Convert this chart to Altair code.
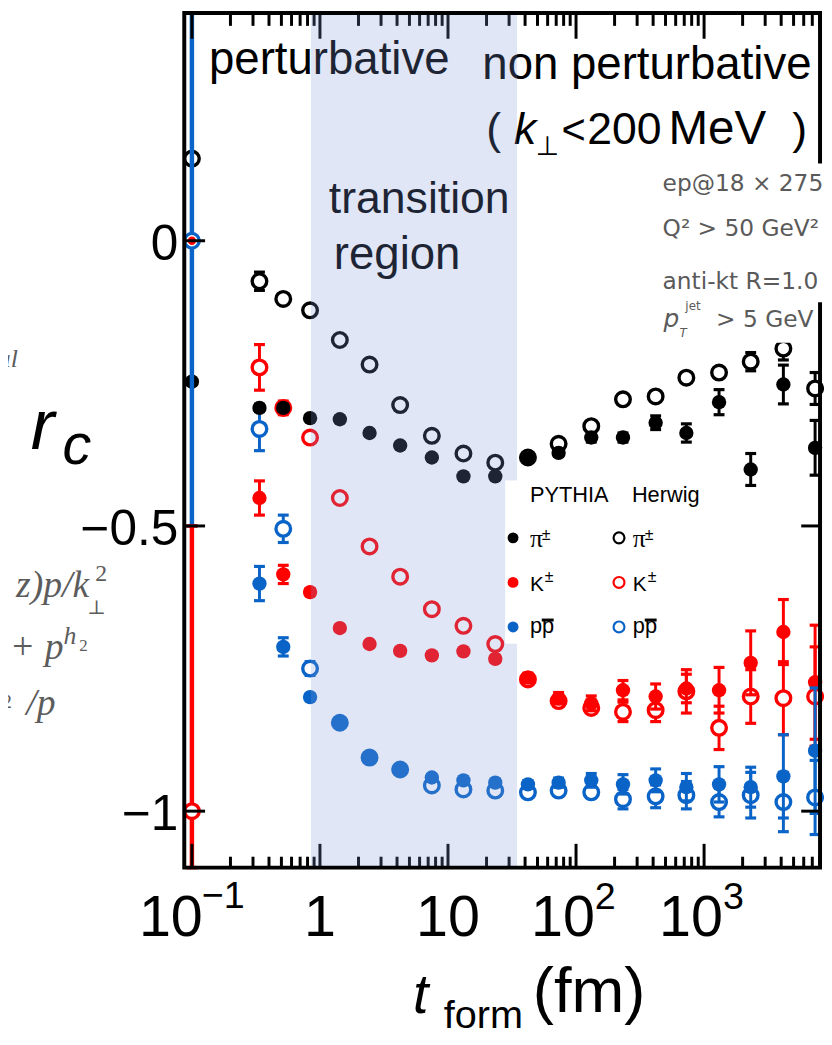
import altair as alt
import pandas as pd

# ---------------- data ----------------
t_form = [0.337, 0.517, 0.837, 1.43, 2.44, 4.23, 7.48, 13.2, 23.4, 42.1, 73.1,
          131.5, 232.6, 418.5, 727.0, 1309.0, 2313.0, 4162.0, 7362.0]

pythia_pi = [-0.293, -0.293, -0.311, -0.313, -0.337, -0.359, -0.380, -0.413, -0.413,
             -0.382, -0.372, -0.345, -0.345, -0.319, -0.337, -0.283, -0.401, -0.252, -0.363]
pythia_pi_err = [0.006, 0.006, 0.005, 0.005, 0.005, 0.005, 0.005, 0.005, 0.005,
                 0.006, 0.006, 0.008, 0.008, 0.012, 0.016, 0.022, 0.028, 0.034, 0.048]
herwig_pi = [-0.071, -0.102, -0.122, -0.174, -0.217, -0.288, -0.342, -0.373, -0.389,
             -0.380, -0.356, -0.325, -0.278, -0.273, -0.240, -0.231, -0.212, -0.189, -0.259]
herwig_pi_err = [0.016, 0.006, 0.005, 0.005, 0.005, 0.005, 0.005, 0.005, 0.005,
                 0.005, 0.006, 0.006, 0.006, 0.007, 0.008, 0.008, 0.016, 0.020, 0.028]
pythia_k = [-0.451, -0.585, -0.616, -0.679, -0.707, -0.719, -0.727, -0.720, -0.733,
            -0.766, -0.802, -0.811, -0.788, -0.799, -0.785, -0.788, -0.740, -0.686, -0.774]
pythia_k_err = [0.030, 0.016, 0.006, 0.005, 0.005, 0.005, 0.005, 0.005, 0.006,
                0.008, 0.010, 0.013, 0.017, 0.022, 0.025, 0.040, 0.056, 0.057, 0.100]
herwig_k = [-0.222, -0.293, -0.345, -0.451, -0.536, -0.589, -0.646, -0.675, -0.707,
            -0.769, -0.807, -0.819, -0.826, -0.823, -0.790, -0.854, -0.799, -0.802, -0.799]
herwig_k_err = [0.040, 0.012, 0.006, 0.005, 0.005, 0.005, 0.005, 0.005, 0.010,
                0.006, 0.008, 0.008, 0.017, 0.020, 0.038, 0.038, 0.047, 0.064, 0.087]
pythia_p = [-0.601, -0.712, -0.800, -0.845, -0.906, -0.927, -0.941, -0.946, -0.950,
            -0.953, -0.950, -0.946, -0.953, -0.946, -0.958, -0.953, -0.958, -0.939, -0.894]
pythia_p_err = [0.030, 0.016, 0.005, 0.005, 0.005, 0.005, 0.005, 0.006, 0.006,
                0.006, 0.008, 0.012, 0.017, 0.020, 0.024, 0.031, 0.035, 0.073, 0.110]
herwig_p = [-0.330, -0.505, -0.750, -0.845, -0.906, -0.927, -0.955, -0.962, -0.964,
            -0.967, -0.964, -0.967, -0.979, -0.974, -0.972, -0.984, -0.972, -0.984, -0.976]
herwig_p_err = [0.038, 0.024, 0.012, 0.005, 0.005, 0.005, 0.005, 0.006, 0.006,
                0.006, 0.008, 0.010, 0.017, 0.020, 0.024, 0.026, 0.040, 0.052, 0.065]

# stray points sitting on the left edge (t = 0.1)
edge_t = [0.1, 0.1, 0.1, 0.1, 0.1]
edge_r = [0.144, -0.247, 0.0, -1.0, 0.0]
edge_color = ["black", "black", "blue", "red", "red"]
edge_open = [True, False, True, True, False]
edge_bar_lo = [-0.5, -1.099]
edge_bar_hi = [0.399, -0.5]
edge_bar_color = ["blue", "red"]

# shaded "transition region" (fm)
trans_lo, trans_hi = 0.85, 34.6

# axis ticks / labels
y_ticks = [0.0, -0.5, -1.0]
y_tick_labels = ["0", "\u22120.5", "\u22121"]
x_major = [0.1, 1, 10, 100, 1000]
x_minor_mult = [2, 3, 4, 5, 6, 7, 8, 9]
x_plain_labels = [(1, "1"), (10, "10")]
x_pow_labels = [(100, "2"), (1000, "3")]

# ---------------- geometry ----------------
W, H = 642, 863
XMIN, XMAX = 0.08717, 8047.0
YMIN, YMAX = -1.099, 0.3993
COL = {"black": "#000000", "red": "#ff0000", "blue": "#0a64c8"}
SANS = "Liberation Sans"
SERIF = "Liberation Serif"
GRAY = "#5c5c5c"
INFO = "#5a5a5a"
S_OPEN, S_FILL = 218, 210

xs = alt.Scale(type="log", domain=[XMIN, XMAX], nice=False)
ys = alt.Scale(domain=[YMIN, YMAX], nice=False, zero=False)


def X(f):
    return alt.X(f, type="quantitative", scale=xs, axis=None)


def Y(f):
    return alt.Y(f, type="quantitative", scale=ys, axis=None)


ONE = pd.DataFrame({"d": [0]})


def open_pt(data, color, size=S_OPEN, sw=3.4):
    return alt.Chart(data).mark_point(shape="circle", filled=True, fill="white",
                                      stroke=color, strokeWidth=sw, size=size, opacity=1)


def fill_pt(data, color, size=S_FILL):
    return alt.Chart(data).mark_point(shape="circle", filled=True, fill=color,
                                      strokeWidth=0, size=size, opacity=1)


def series(vals, errs, color, is_open):
    df = pd.DataFrame({"t": t_form, "r": vals,
                       "lo": [v - e for v, e in zip(vals, errs)],
                       "hi": [v + e for v, e in zip(vals, errs)]})
    base = alt.Chart(df)
    bar = base.mark_rule(color=color, strokeWidth=3, opacity=1).encode(
        x=X("t"), y=Y("lo"), y2=alt.Y2("hi"))
    cl = base.mark_tick(orient="horizontal", size=11, thickness=3.2, color=color,
                        opacity=1).encode(x=X("t"), y=Y("lo"))
    ch = base.mark_tick(orient="horizontal", size=11, thickness=3.2, color=color,
                        opacity=1).encode(x=X("t"), y=Y("hi"))
    pt = open_pt(df, color) if is_open else fill_pt(df, color)
    pt = pt.encode(x=X("t"), y=Y("r"))
    return [bar, cl, ch, pt]


def txt(s, x, y, size, color="black", font=SANS, style="normal", align="left"):
    return alt.Chart(pd.DataFrame({"s": [s]})).mark_text(
        align=align, baseline="alphabetic", fontSize=size, font=font,
        fontStyle=style, color=color).encode(x=alt.value(x), y=alt.value(y), text="s:N")


def prect(x1, x2, y1, y2, fill):
    return alt.Chart(ONE).mark_rect(color=fill, opacity=1).encode(
        x=alt.value(x1), x2=alt.value(x2), y=alt.value(y1), y2=alt.value(y2))


layers = []

# ---- stray edge points ----
edf = pd.DataFrame({"t": edge_t, "r": edge_r,
                    "c": [COL[c] for c in edge_color], "o": edge_open})
bdf = pd.DataFrame({"t": [0.1, 0.1], "lo": edge_bar_lo, "hi": edge_bar_hi,
                    "c": [COL[c] for c in edge_bar_color]})
layers.append(open_pt(edf.iloc[[0]], COL["black"]).encode(x=X("t"), y=Y("r")))
layers.append(fill_pt(edf.iloc[[1]], COL["black"]).encode(x=X("t"), y=Y("r")))
for i in range(2):
    b = alt.Chart(bdf.iloc[[i]])
    c = bdf["c"][i]
    layers.append(b.mark_rule(color=c, strokeWidth=4.5, opacity=1).encode(
        x=X("t"), y=Y("lo"), y2=alt.Y2("hi")))
    layers.append(b.mark_tick(orient="horizontal", size=11, thickness=3.5, color=c,
                              opacity=1).encode(x=X("t"), y=Y("lo")))
    layers.append(b.mark_tick(orient="horizontal", size=11, thickness=3.5, color=c,
                              opacity=1).encode(x=X("t"), y=Y("hi")))
layers.append(open_pt(edf.iloc[[2]], COL["blue"]).encode(x=X("t"), y=Y("r")))
layers.append(open_pt(edf.iloc[[3]], COL["red"]).encode(x=X("t"), y=Y("r")))
layers.append(fill_pt(edf.iloc[[4]], COL["red"], size=70).encode(x=X("t"), y=Y("r")))

# ---- main series: Herwig (open) first, then PYTHIA (filled) ----
layers += series(herwig_k, herwig_k_err, COL["red"], True)
layers += series(herwig_pi, herwig_pi_err, COL["black"], True)
layers += series(herwig_p, herwig_p_err, COL["blue"], True)
layers += series(pythia_k, pythia_k_err, COL["red"], False)
layers += series(pythia_pi, pythia_pi_err, COL["black"], False)
layers += series(pythia_p, pythia_p_err, COL["blue"], False)

# ---- region texts (under the shading) ----
layers.append(txt("perturbative", 25, 62, 46))
layers.append(txt("non perturbative", 301, 67, 46))
layers.append(txt("(", 305, 132, 45))
layers.append(txt("k", 333, 132, 45, style="italic"))
layers.append(txt("\u22a5", 355, 143, 27, font="DejaVu Sans"))
layers.append(txt("<", 381, 132, 42))
layers.append(txt("200", 407, 132, 45))
layers.append(txt("MeV", 489, 132, 48))
layers.append(txt(")", 614, 132, 45))
layers.append(txt("transition", 146, 202, 45))
layers.append(txt("region", 151, 259, 46))

# ---- ticks ----
minor = [m * d for d in x_major for m in x_minor_mult if XMIN < m * d < XMAX]
mj = pd.DataFrame({"t": x_major})
mn = pd.DataFrame({"t": minor})
for df, ln in ((mj, 24), (mn, 11)):
    layers.append(alt.Chart(df).mark_rule(color="black", strokeWidth=3, opacity=1).encode(
        x=X("t"), y=alt.value(H), y2=alt.value(H - ln)))
for df, ln in ((mj, 26), (mn, 13)):
    layers.append(alt.Chart(df).mark_rule(color="black", strokeWidth=3, opacity=1).encode(
        x=X("t"), y=alt.value(0), y2=alt.value(ln)))
ytk = pd.DataFrame({"v": y_ticks, "lab": y_tick_labels})
layers.append(alt.Chart(ytk).mark_rule(color="black", strokeWidth=3, opacity=1).encode(
    y=Y("v"), x=alt.value(0), x2=alt.value(21)))
layers.append(alt.Chart(ytk.iloc[1:]).mark_rule(color="black", strokeWidth=3, opacity=1).encode(
    y=Y("v"), x=alt.value(W - 19), x2=alt.value(W)))

# ---- shading of the transition region (semi-transparent, on top) ----
sh = pd.DataFrame({"a": [trans_lo], "b": [trans_hi]})
layers.append(alt.Chart(sh).mark_rect(color="rgb(125,150,212)", opacity=0.24).encode(
    x=X("a"), x2=alt.X2("b"), y=alt.value(0), y2=alt.value(H)))

# ---- frame ----
layers.append(alt.Chart(ONE).mark_rect(filled=False, stroke="black", strokeWidth=4,
                                       opacity=1).encode(
    x=alt.value(0), x2=alt.value(W), y=alt.value(0), y2=alt.value(H)))

# ---- info box (gray, top right) ----
layers.append(prect(476, 646, 152, 292, "white"))
layers.append(prect(476, 630, 292, 333, "white"))
layers.append(txt("ep@18 \u00d7 275", 483, 180, 23.5, color=INFO, font="DejaVu Sans"))
layers.append(txt("Q\u00b2 > 50 GeV\u00b2", 483, 225, 23.5, color=INFO, font="DejaVu Sans"))
layers.append(txt("anti-kt R=1.0", 483, 279, 23.5, color=INFO, font="DejaVu Sans"))
layers.append(txt("p", 484, 317, 25, color=INFO, font="DejaVu Sans", style="italic"))
layers.append(txt("T", 500, 327, 12, color=INFO, font="DejaVu Sans", style="italic"))
layers.append(txt("jet", 506, 300, 12, color=INFO, font="DejaVu Sans"))
layers.append(txt("> 5 GeV", 537, 317, 23.5, color=INFO, font="DejaVu Sans"))

# ---- legend ----
layers.append(prect(324, 540, 472, 637, "white"))
layers.append(txt("PYTHIA", 349, 494, 22))
layers.append(txt("Herwig", 452, 494, 22))
leg_y = [530, 575, 620]
leg_c = [COL["black"], COL["red"], COL["blue"]]
for yy, cc in zip(leg_y, leg_c):
    layers.append(fill_pt(ONE, cc, size=121).encode(x=alt.value(332), y=alt.value(yy)))
    layers.append(open_pt(ONE, cc, size=121, sw=2.2).encode(x=alt.value(439), y=alt.value(yy)))
for x0 in (349, 453):
    layers.append(txt("\u03c0", x0, 539, 26, font=SERIF))
    layers.append(txt("\u00b1", x0 + 12, 532, 16))
    layers.append(txt("K", x0, 584, 21))
    layers.append(txt("\u00b1", x0 + 15, 575, 16))
    layers.append(txt("pp", x0, 626, 22))
    layers.append(alt.Chart(ONE).mark_rule(color="black", strokeWidth=3, opacity=1).encode(
        x=alt.value(x0 + 12), x2=alt.value(x0 + 24), y=alt.value(613)))

# ---- tick labels ----
ylab = alt.Chart(ytk).mark_text(align="right", baseline="alphabetic", fontSize=50,
                                font=SANS, color="black", dy=19).encode(
    x=alt.value(-6), y=Y("v"), text="lab:N")
layers.append(ylab)
xp = pd.DataFrame({"t": [a for a, _ in x_plain_labels], "s": [b for _, b in x_plain_labels]})
layers.append(alt.Chart(xp).mark_text(align="center", baseline="alphabetic", fontSize=58,
                                      font=SANS, color="black").encode(
    x=X("t"), y=alt.value(932), text="s:N"))
xq = pd.DataFrame({"t": [a for a, _ in x_pow_labels], "s": [b for _, b in x_pow_labels],
                   "b": ["10"] * len(x_pow_labels)})
layers.append(alt.Chart(xq).mark_text(align="right", baseline="alphabetic", fontSize=58,
                                      font=SANS, color="black", dx=19).encode(
    x=X("t"), y=alt.value(932), text="b:N"))
layers.append(alt.Chart(xq).mark_text(align="left", baseline="alphabetic", fontSize=38,
                                      font=SANS, color="black", dx=19).encode(
    x=X("t"), y=alt.value(905), text="s:N"))
xm = pd.DataFrame({"t": [0.1], "b": ["10"], "s": ["\u22121"]})
layers.append(alt.Chart(xm).mark_text(align="right", baseline="alphabetic", fontSize=58,
                                      font=SANS, color="black", dx=11).encode(
    x=X("t"), y=alt.value(932), text="b:N"))
layers.append(alt.Chart(xm).mark_text(align="left", baseline="alphabetic", fontSize=38,
                                      font=SANS, color="black", dx=10).encode(
    x=X("t"), y=alt.value(904), text="s:N"))

# ---- axis titles ----
layers.append(txt("t", 231, 1010, 56, style="italic"))
layers.append(txt("form", 262, 1025, 40))
layers.append(txt("(fm)", 352, 1009, 64))
layers.append(txt("r", -155, 440, 72, style="italic"))
layers.append(txt("c", -123, 455, 58, style="italic"))

# ---- cropped gray formula fragments at the far left ----
layers.append(txt("al", -168, 357, 26, color=GRAY, font=SERIF, style="italic", align="right"))
layers.append(txt("z)p/k", -96, 590, 38, color=GRAY, font=SERIF, style="italic", align="right"))
layers.append(txt("\u22a5", -98, 607, 20, color=GRAY, font="DejaVu Serif"))
layers.append(txt("2", -90, 574, 24, color=GRAY, font=SERIF))
layers.append(txt("+ p", -122, 652, 38, color=GRAY, font=SERIF, style="italic", align="right"))
layers.append(txt("h", -122, 637, 26, color=GRAY, font=SERIF, style="italic"))
layers.append(txt("2", -106, 644, 17, color=GRAY, font=SERIF))
layers.append(txt("2", -174, 702, 20, color=GRAY, font=SERIF, align="right"))
layers.append(txt("/p", -130, 709, 38, color=GRAY, font=SERIF, style="italic", align="right"))

chart = alt.layer(*layers).properties(
    width=W, height=H,
    padding={"left": 178, "top": 0, "right": 4, "bottom": 166},
    autosize=alt.AutoSizeParams(type="none"),
    background="white",
).configure_view(strokeWidth=0)

chart.save("out.html", embed_options={"renderer": "svg", "actions": False})
